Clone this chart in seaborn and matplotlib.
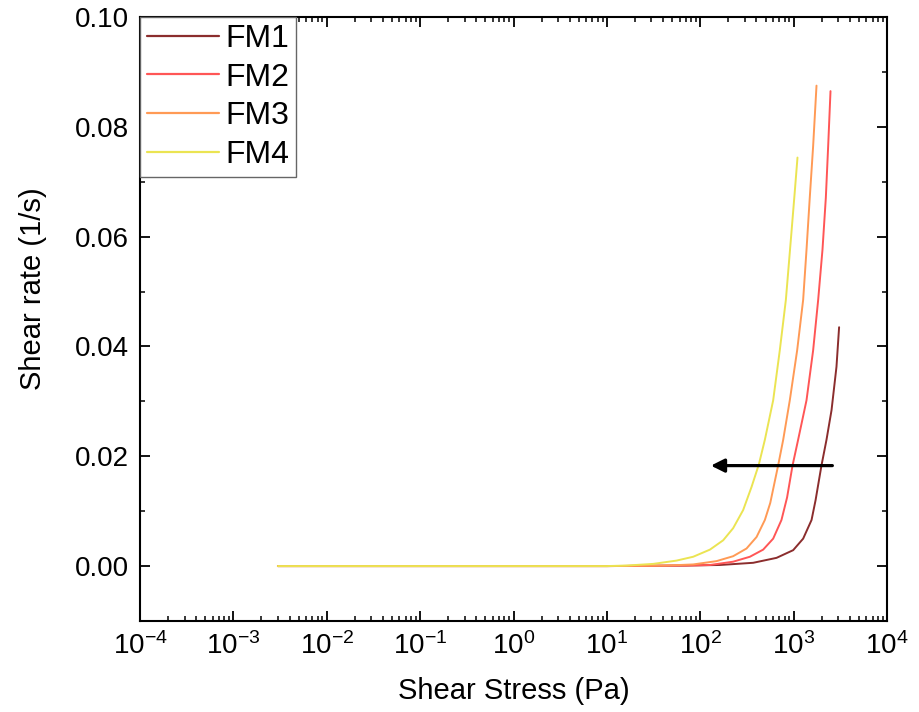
import numpy as np
import pandas as pd
import matplotlib
matplotlib.use("Agg")
import matplotlib.pyplot as plt
import seaborn as sns
from matplotlib.ticker import LogLocator, MultipleLocator, FixedLocator, NullFormatter

# ---- data ----
samples = ["FM1", "FM2", "FM3", "FM4"]
colors = ["#8B2D2D", "#FF5656", "#FF9A55", "#EBE452"]

flat_stress = [0.003, 0.005, 0.01, 0.03, 0.1, 0.3, 1, 3, 10]
flat_rate = [0, 0, 0, 0, 0, 0, 0, 0, 0]

fm1_stress = flat_stress + [71, 162, 369, 656, 989, 1265, 1556, 1718, 1986, 2249, 2547, 2877, 3069]
fm1_rate = flat_rate + [0.0001, 0.0002, 0.0006, 0.0015, 0.0029, 0.0050, 0.0084, 0.0120,
                        0.0183, 0.0230, 0.0284, 0.0363, 0.0435]

fm2_stress = flat_stress + [71, 127, 225, 340, 472, 604, 741, 851, 973, 1117, 1374, 1618,
                            1832, 2037, 2213, 2344, 2483]
fm2_rate = flat_rate + [0.0001, 0.0002, 0.0008, 0.0017, 0.0030, 0.0050, 0.0084, 0.0125,
                        0.0183, 0.0230, 0.0302, 0.0393, 0.0485, 0.0576, 0.0671, 0.0765, 0.0865]

fm3_stress = flat_stress + [43.6, 84, 149, 225, 313, 401, 492, 562, 682, 773, 910, 1091,
                            1265, 1374, 1489, 1618, 1758]
fm3_rate = flat_rate + [0.0001, 0.0003, 0.0009, 0.0018, 0.0032, 0.0053, 0.0084, 0.0115,
                        0.0183, 0.0230, 0.0302, 0.0393, 0.0485, 0.0576, 0.0671, 0.0765, 0.0875]

fm4_stress = flat_stress + [16.3, 31.3, 55.7, 84, 127, 176, 225, 288, 354, 424, 492, 604,
                            711, 826, 948, 1030, 1100]
fm4_rate = flat_rate + [0.0001, 0.0004, 0.0010, 0.0017, 0.0030, 0.0047, 0.0069, 0.0102,
                        0.0144, 0.0185, 0.0230, 0.0302, 0.0393, 0.0485, 0.0608, 0.0683, 0.0744]

arrow_start = (2600, 0.0183)
arrow_end = (130, 0.0183)

x_ticks = [1e-4, 1e-3, 1e-2, 1e-1, 1e0, 1e1, 1e2, 1e3, 1e4]
y_ticks = [0.00, 0.02, 0.04, 0.06, 0.08, 0.10]

# ---- build long-form table ----
frames = []
for name, xs, ys in zip(samples,
                        [fm1_stress, fm2_stress, fm3_stress, fm4_stress],
                        [fm1_rate, fm2_rate, fm3_rate, fm4_rate]):
    frames.append(pd.DataFrame({"stress": xs, "rate": ys, "sample": name}))
df = pd.concat(frames, ignore_index=True)

# ---- style ----
sns.set_style("ticks")
plt.rcParams["font.family"] = ["Liberation Sans", "DejaVu Sans"]
plt.rcParams["mathtext.fontset"] = "custom"
plt.rcParams["mathtext.rm"] = "Liberation Sans"
plt.rcParams["mathtext.it"] = "Liberation Sans:italic"
plt.rcParams["mathtext.bf"] = "Liberation Sans:bold"
plt.rcParams["axes.unicode_minus"] = False
for k in ["text.color", "axes.labelcolor", "xtick.color", "ytick.color"]:
    plt.rcParams[k] = "black"

fig = plt.figure(figsize=(9.2, 7.12), dpi=100)
ax = fig.add_axes([140 / 920, 91 / 712, (887 - 140) / 920, (621 - 17) / 712])

sns.lineplot(data=df, x="stress", y="rate", hue="sample", hue_order=samples,
             palette=dict(zip(samples, colors)), estimator=None, sort=False,
             linewidth=1.4, ax=ax)

ax.set_xscale("log")
ax.set_xlim(1e-4, 1e4)
ax.set_ylim(-0.01, 0.10)
ax.xaxis.set_major_locator(FixedLocator(x_ticks))
ax.xaxis.set_minor_locator(LogLocator(base=10, subs=np.arange(2, 10), numticks=20))
ax.xaxis.set_minor_formatter(NullFormatter())
ax.yaxis.set_major_locator(FixedLocator(y_ticks))
ax.yaxis.set_minor_locator(MultipleLocator(0.01))
ax.yaxis.set_major_formatter(matplotlib.ticker.FormatStrFormatter("%.2f"))

ax.tick_params(which="both", direction="in", top=True, right=True, color="black")
ax.tick_params(which="major", length=7, width=1.3, labelsize=20, pad=8)
ax.tick_params(which="minor", length=3.5, width=1.1)
for s in ax.spines.values():
    s.set_linewidth(1.5)
    s.set_color("black")

ax.set_xlabel("Shear Stress (Pa)", fontsize=21, labelpad=12)
ax.set_ylabel("Shear rate (1/s)", fontsize=21, labelpad=10)
ax.yaxis.set_label_coords(-0.125, 0.55)

ax.annotate("", xy=arrow_end, xytext=arrow_start,
            arrowprops=dict(arrowstyle="-|>,head_length=0.8,head_width=0.4",
                            color="black", lw=2.3, shrinkA=0, shrinkB=0))

leg = ax.legend(loc="upper left", fontsize=23, frameon=True, fancybox=False,
                borderaxespad=0, borderpad=0.22, labelspacing=0.27,
                handlelength=2.25, handletextpad=0.2, title=None)
leg.get_frame().set_edgecolor("#666666")
leg.get_frame().set_linewidth(1.0)
leg.get_frame().set_alpha(1)
for line in leg.get_lines():
    line.set_linewidth(1.6)

fig.savefig("out.png", dpi=100)
